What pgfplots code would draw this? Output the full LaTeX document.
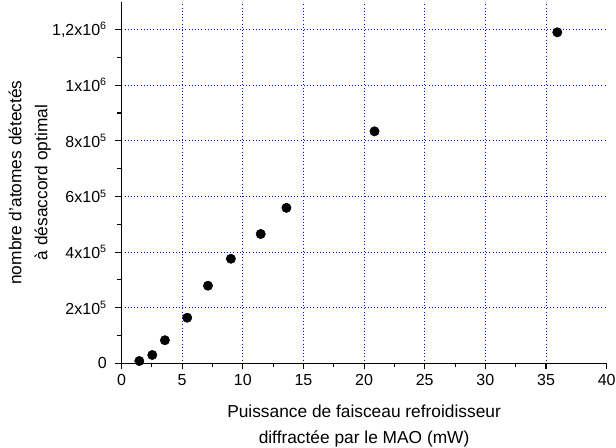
\documentclass[border=0pt]{standalone}
\usepackage{pgfplots}
\pgfplotsset{compat=1.18}
\usepackage{fontspec}
\setmainfont{Liberation Sans}

\begin{document}
\begin{tikzpicture}
\begin{axis}[
    scale only axis,
    width=363.9pt, height=271.2pt,
    xmin=0, xmax=40, ymin=0, ymax=1.3e6,
    axis lines=left,
    axis line style={-, line width=0.9pt},
    xtick={0,5,...,35},
    extra x ticks={40},
    extra x tick style={grid=none},
    ytick={0,2e5,4e5,6e5,8e5,1e6,1.2e6},
    yticklabels={0, 2x10\textsuperscript{5}, 4x10\textsuperscript{5}, 6x10\textsuperscript{5},
                 8x10\textsuperscript{5}, 1x10\textsuperscript{6}, 1{,}2x10\textsuperscript{6}},
    scaled y ticks=false,
    minor x tick num=1, minor y tick num=1,
    tick align=outside,
    major tick length=4.5pt, minor tick length=3pt,
    tick style={black, line width=0.8pt},
    grid=major,
    major grid style={blue, dotted, line width=0.7pt},
    /pgf/number format/assume math mode=true,
    ticklabel style={font=\fontsize{12}{14}\selectfont},
    yticklabel style={xshift=-3pt},
    label style={font=\fontsize{13}{19.5}\selectfont, align=center},
    xlabel={Puissance de faisceau refroidisseur\\diffractée par le MAO (mW)},
    xlabel style={yshift=1.5pt},
    ylabel={nombre d'atomes détectés\\à désaccord optimal},
    ylabel style={yshift=-6pt},
]
\addplot[only marks, mark=*, mark size=3.5pt, black] coordinates {
    (1.47, 8.3e3)
    (2.54, 3.0e4)
    (3.58, 8.3e4)
    (5.42, 1.64e5)
    (7.13, 2.79e5)
    (9.02, 3.76e5)
    (11.48, 4.65e5)
    (13.60, 5.59e5)
    (20.86, 8.34e5)
    (35.93, 1.19e6)
};
\end{axis}
\pgfresetboundingbox
\path[use as bounding box] (-91.1pt,-63.5pt) rectangle (370.9pt,272.5pt);
\end{tikzpicture}
\end{document}
